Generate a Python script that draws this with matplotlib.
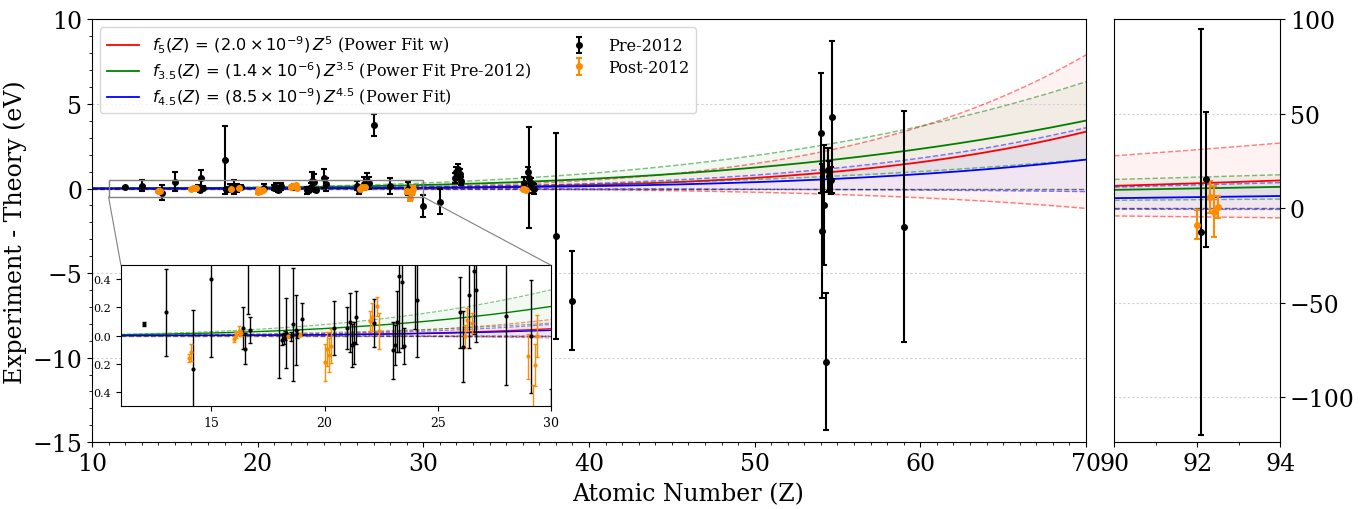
import numpy as np
import matplotlib
matplotlib.use('Agg')
import matplotlib.pyplot as plt
from matplotlib.ticker import MultipleLocator
from matplotlib.patches import Rectangle, ConnectionPatch

plt.rcParams['font.family'] = 'serif'
plt.rcParams['font.serif'] = ['DejaVu Serif']

# measurements before 2012: Z, E_exp - E_theory (eV), 1-sigma error
pre_z = [12.0, 13.0, 14.2, 15.0, 16.4, 16.5, 16.6, 16.7, 18.0, 18.1, 18.2, 18.25, 18.3,
         18.5, 18.6, 18.73, 18.8, 19.0, 20.4, 21.0, 21.1, 21.2, 21.3, 21.4, 22.2, 23.0,
         23.1, 23.2, 23.3, 23.4, 23.5, 24.0, 24.1, 26.0, 26.1, 26.4, 26.6, 26.7, 27.0,
         28.0, 29.1, 30.0, 31.0, 31.9, 32.0, 32.1, 32.2, 32.3, 36.1, 36.3, 36.4, 36.5,
         36.6, 36.7, 38.0, 39.0, 54.0, 54.06, 54.16, 54.28, 54.4, 54.5, 54.58, 54.68,
         59.0, 92.1, 92.2]
pre_de = [0.08, 0.165, -0.24, 0.405, 0.056, -0.094, 0.62, 0.04, 1.7, -0.028, -0.02, 0.0, 0.02,
          -0.005, 0.08, 0.04, 0.01, 0.118, 0.054, 0.054, 0.094, -0.07, -0.054, 0.13, 0.09, -0.105,
          -0.066, 0.1, 0.42, 0.38, -0.075, 0.6, 0.25, 0.165, -0.078, 0.29, 0.46, 0.325, 3.74,
          0.14, -0.005, -1.03, -0.77, 0.6, 0.95, 1.15, 0.85, 0.45, 0.31, 0.98, 0.65, 0.3,
          0.02, -0.05, -2.82, -6.64, 3.29, -2.5, -1.0, -10.24, 1.12, 0.73, 0.5, 4.22,
          -2.25, -12.7, 15.2]
pre_err = [0.015, 0.31, 0.42, 0.56, 0.15, 0.11, 0.47, 0.09, 2.0, 0.04, 0.04, 0.03, 0.25,
           0.03, 0.4, 0.25, 0.03, 0.117, 0.19, 0.15, 0.21, 0.15, 0.15, 0.19, 0.17, 0.2,
           0.14, 0.22, 0.54, 0.47, 0.13, 0.55, 0.4, 0.25, 0.25, 0.38, 0.45, 0.37, 0.64,
           0.49, 0.4, 0.65, 0.75, 0.3, 0.3, 0.3, 0.3, 0.25, 0.4, 0.3, 3.0, 0.3,
           0.3, 0.3, 6.1, 2.93, 3.55, 3.95, 3.55, 4.05, 1.3, 0.9, 0.8, 4.5,
           6.85, 107.6, 35.6]

# measurements after 2012
post_z = [14.0, 14.1, 16.0, 16.1, 16.2, 16.3, 18.4, 18.9, 20.0, 20.1, 20.2, 20.3, 22.0, 22.1,
          22.3, 22.4, 26.2, 26.3, 26.5, 29.0, 29.2, 29.3, 29.4, 36.0, 36.1, 36.2,
          92.0, 92.3, 92.4, 92.5]
post_de = [-0.16, -0.12, -0.024, 0.005, 0.035, 0.02, -0.005, 0.005, -0.19, -0.094, -0.136, -0.075,
           0.105, 0.13, 0.207, 0.033, -0.005, 0.113, 0.09, -0.146, -0.55, -0.21, -0.005, -0.05,
           0.0, -0.1, -8.7, 5.8, -1.8, 0.7]
post_err = [0.03, 0.06, 0.02, 0.02, 0.03, 0.02, 0.01, 0.01, 0.13, 0.12, 0.12, 0.12, 0.07, 0.1,
            0.07, 0.13, 0.08, 0.08, 0.07, 0.16, 0.2, 0.15, 0.15, 0.05, 0.05, 0.05,
            7.8, 8.6, 13.5, 5.75]

# power law fits a * Z^n with uncertainty on a
fit_n = [5, 3.5, 4.5]
fit_a = [2.0e-9, 1.4e-6, 8.5e-9]
fit_sa = [2.7e-9, 0.8e-6, 9.4e-9]
fit_colors = ['red', 'green', 'blue']
fit_labels = [r'$f_5(Z)\, =\, (2.0 \times 10^{-9})\, Z^5$ (Power Fit w)',
              r'$f_{3.5}(Z)\, =\, (1.4 \times 10^{-6})\, Z^{3.5}$ (Power Fit Pre-2012)',
              r'$f_{4.5}(Z)\, =\, (8.5 \times 10^{-9})\, Z^{4.5}$ (Power Fit)']


def draw_fits(ax, z, lw=1.3, label=True):
  for n, a, sa, c, lab in zip(fit_n, fit_a, fit_sa, fit_colors, fit_labels):
    zn = z**n
    ax.plot(z, a*zn, color=c, lw=lw, label=lab if label else None)
    ax.plot(z, (a+sa)*zn, '--', color=c, lw=lw*0.8, alpha=0.5)
    ax.plot(z, (a-sa)*zn, '--', color=c, lw=lw*0.8, alpha=0.5)
    ax.fill_between(z, (a-sa)*zn, (a+sa)*zn, color=c, alpha=0.05, lw=0)
  ax.axhline(0, color='k', ls='--', lw=1, alpha=0.5)


def draw_data(ax, ms, lw, cs, label=True):
  ax.errorbar(pre_z, pre_de, yerr=pre_err, fmt='o', color='k', ms=ms, elinewidth=lw,
              capsize=cs, capthick=lw, label='Pre-2012' if label else None)
  ax.errorbar(post_z, post_de, yerr=post_err, fmt='o', color='darkorange', ms=ms, elinewidth=lw,
              capsize=cs, capthick=lw, label='Post-2012' if label else None)


fig = plt.figure(figsize=(13.65, 5.1), dpi=100)
ax = fig.add_axes([0.0674, 0.131, 0.7282, 0.829])
ax_r = fig.add_axes([0.8163, 0.131, 0.1216, 0.829])

# main panel
draw_fits(ax, np.linspace(10, 70, 300))
draw_data(ax, 4, 1.5, 2)
ax.set_xlim(10, 70)
ax.set_ylim(-15, 10)
ax.xaxis.set_major_locator(MultipleLocator(10))
ax.xaxis.set_minor_locator(MultipleLocator(1))
ax.yaxis.set_major_locator(MultipleLocator(5))
ax.yaxis.set_minor_locator(MultipleLocator(1))
ax.tick_params(labelsize=17)
ax.yaxis.grid(True, ls=(0, (2, 2)), color='#d0d0d0', lw=0.8)
ax.set_ylabel('Experiment - Theory (eV)', fontsize=17)
ax.legend(loc='upper left', ncol=2, fontsize=11.6, labelspacing=0.3)

# right panel (uranium)
draw_fits(ax_r, np.linspace(90, 94, 50), label=False)
draw_data(ax_r, 4, 1.5, 2, label=False)
ax_r.set_xlim(90, 94)
ax_r.set_ylim(-124, 100)
ax_r.set_xticks([90, 92, 94])
ax_r.xaxis.set_minor_locator(MultipleLocator(1))
ax_r.yaxis.set_major_locator(MultipleLocator(50))
ax_r.yaxis.tick_right()
ax_r.tick_params(labelsize=17)
ax_r.yaxis.grid(True, ls=(0, (2, 2)), color='#d0d0d0', lw=0.8)

fig.text(0.504, 0.03, 'Atomic Number (Z)', ha='center', va='center', fontsize=17)

# zoomed inset of the low-Z region
axins = fig.add_axes([0.0886, 0.202, 0.315, 0.276])
draw_fits(axins, np.linspace(11, 30, 200), lw=1.0, label=False)
draw_data(axins, 2, 1.0, 1.5, label=False)
axins.set_xlim(11, 30)
axins.set_ylim(-0.5, 0.5)
axins.xaxis.set_major_locator(MultipleLocator(5))
axins.set_yticks([-0.4, -0.2, 0.0, 0.2, 0.4])
axins.set_yticklabels(['0.4', '0.2', '0.0', '0.2', '0.4'])
axins.tick_params(axis='x', labelsize=9)
axins.tick_params(axis='y', labelsize=8)

ax.add_patch(Rectangle((11, -0.5), 19, 1.0, fill=False, edgecolor='gray', lw=1, zorder=5))
for zc in (11, 30):
  con = ConnectionPatch(xyA=(zc, -0.5), coordsA=ax.transData, xyB=(zc, 0.5), coordsB=axins.transData,
                        color='gray', lw=0.8)
  fig.add_artist(con)

plt.savefig('out.png', dpi=100)
